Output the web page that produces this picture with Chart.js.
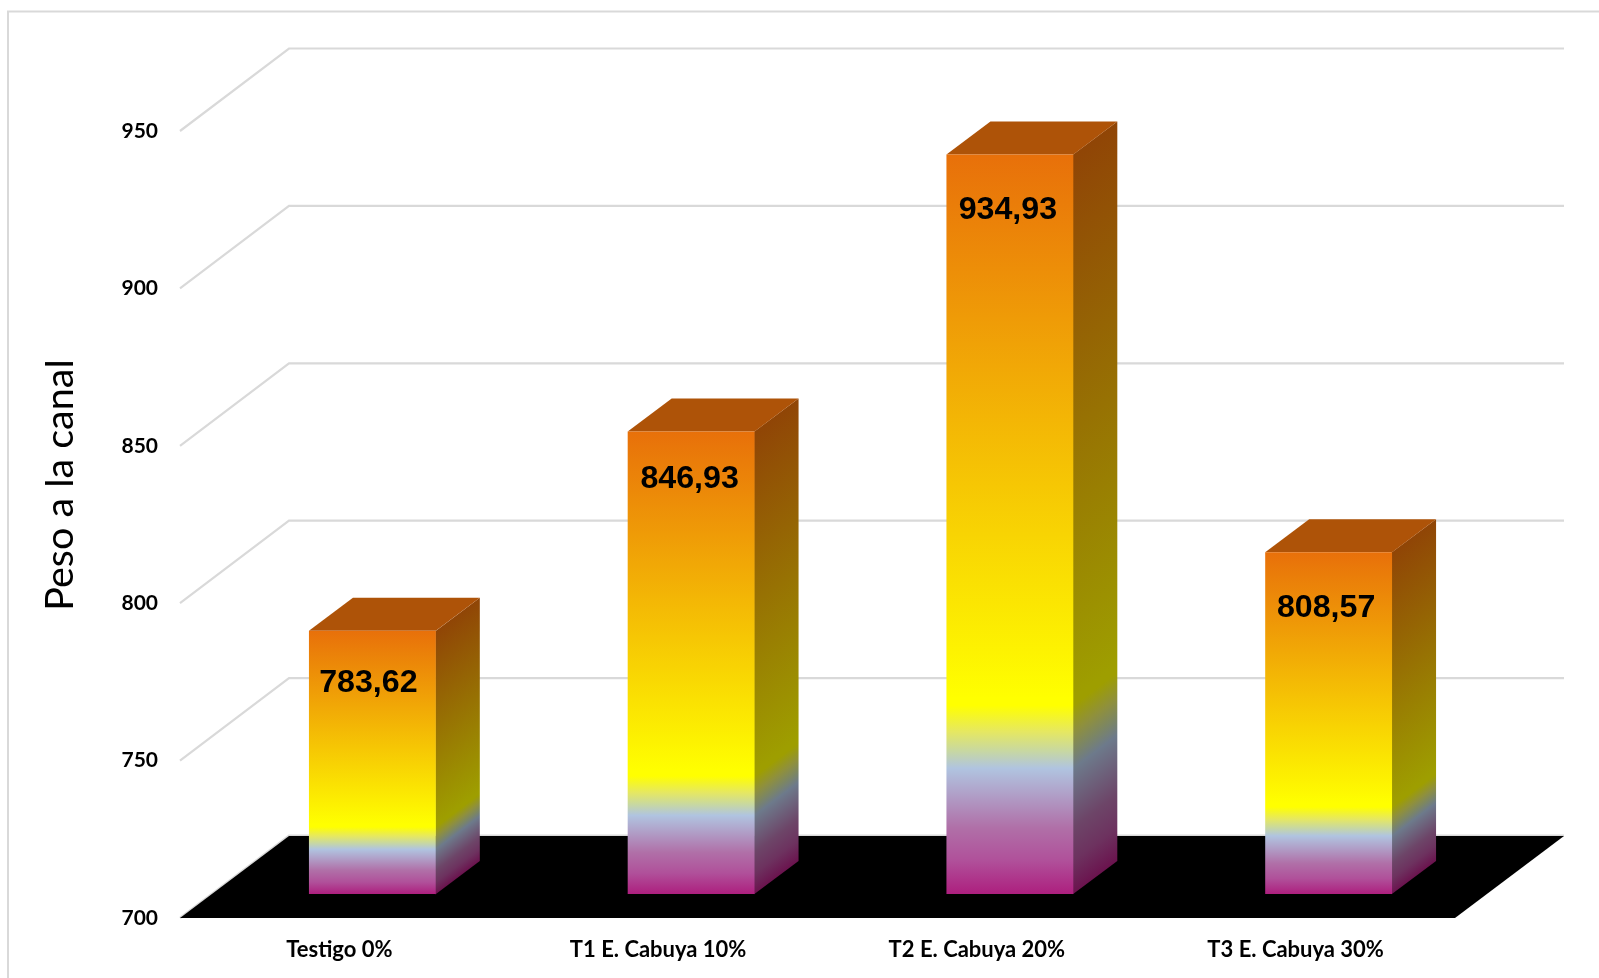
<!DOCTYPE html>
<html lang="es">
<head>
<meta charset="utf-8">
<title>Peso a la canal</title>
<style>
  html, body { margin: 0; padding: 0; background: #ffffff; }
  #wrap { position: relative; width: 1599px; height: 978px; }
</style>
<script src="https://cdn.jsdelivr.net/npm/chart.js@4"></script>
</head>
<body>
<div id="wrap"><canvas id="chart" width="1599" height="978"></canvas></div>
<script>
// Carcass weight per treatment
const categories = ['Testigo 0%', 'T1 E. Cabuya 10%', 'T2 E. Cabuya 20%', 'T3 E. Cabuya 30%'];
const pesoCanal = [783.62, 846.93, 934.93, 808.57];
const axisMin = 700;
const axisMax = 950;
const axisStep = 50;
const axisTitle = 'Peso a la canal';

// Oblique projection of the 3D box
const WALL = { dx: 109, dy: -82.5 };   // floor front edge to back wall
const FLOOR_DY = -82;
const BAR_SHIFT = { dx: 33, dy: -24 }; // floor front edge to bar front face
const BAR_DEPTH = { dx: 44, dy: -33 }; // bar front face to bar back face
const WALL_RIGHT = 1564;

const GRID = '#d9d9d9';
const FACE_STOPS = [
  [0, [232, 112, 10]],
  [0.735, [255, 255, 0]],
  [0.745, [255, 255, 0]],
  [0.78, [230, 232, 96]],
  [0.806, [200, 216, 160]],
  [0.83, [176, 196, 224]],
  [0.865, [176, 160, 200]],
  [0.91, [176, 112, 168]],
  [0.955, [176, 80, 154]],
  [1, [173, 31, 126]]
];
const SIDE_SHADE = 0.62;
const TOP_FILL = '#ae5308';

// Hand placement of the value labels relative to each bar's centre and top
const LABEL_DX = [-4, -1.5, -2, -2.5];
const LABEL_DY = [52, 47.5, 56, 55.5];

function barGradient(ctx, top, bottom, shade) {
  const g = ctx.createLinearGradient(0, top, 0, bottom);
  FACE_STOPS.forEach(([at, c]) => {
    g.addColorStop(at, `rgb(${c.map(v => Math.round(v * shade)).join(',')})`);
  });
  return g;
}

const box3d = {
  id: 'box3d',
  beforeDraw(chart) {
    const { ctx } = chart;
    ctx.save();
    // outer frame, open towards the right and bottom
    ctx.strokeStyle = GRID;
    ctx.lineWidth = 2;
    ctx.beginPath();
    ctx.moveTo(8, 978);
    ctx.lineTo(8, 11.5);
    ctx.lineTo(1599, 11.5);
    ctx.stroke();
    // axis title, centred on the lower part of the value axis
    ctx.translate(73, 485);
    ctx.rotate(-Math.PI / 2);
    ctx.font = '39.5px Lato, sans-serif';
    ctx.fillStyle = '#000000';
    ctx.textAlign = 'center';
    ctx.textBaseline = 'alphabetic';
    ctx.fillText(axisTitle, 0, 0);
    ctx.restore();
  },
  beforeDatasetsDraw(chart) {
    const { ctx, scales: { x, y } } = chart;
    const left = x.left, right = x.right;
    ctx.save();
    // walls: one line per tick, running up the side wall and along the back
    ctx.strokeStyle = GRID;
    ctx.lineWidth = 2.2;
    y.ticks.forEach(t => {
      const py = y.getPixelForValue(t.value);
      ctx.beginPath();
      ctx.moveTo(left, py);
      ctx.lineTo(left + WALL.dx, py + WALL.dy);
      ctx.lineTo(WALL_RIGHT, py + WALL.dy);
      ctx.stroke();
    });
    // floor
    const base = y.getPixelForValue(axisMin);
    ctx.beginPath();
    ctx.moveTo(left, base);
    ctx.lineTo(left + WALL.dx, base + FLOOR_DY);
    ctx.lineTo(right + WALL.dx, base + FLOOR_DY);
    ctx.lineTo(right, base);
    ctx.closePath();
    ctx.fillStyle = '#000000';
    ctx.fill();
    ctx.restore();
  },
  beforeDatasetDraw(chart, args) {
    const { ctx, scales: { y } } = chart;
    const meta = args.meta;
    ctx.save();
    ctx.translate(BAR_SHIFT.dx, BAR_SHIFT.dy);
    const base = y.getPixelForValue(axisMin);
    meta.data.forEach(bar => {
      const half = bar.width / 2;
      const xl = bar.x - half, xr = bar.x + half, top = bar.y;
      // side face, sheared so the colour bands follow the perspective
      ctx.save();
      ctx.transform(1, BAR_DEPTH.dy / BAR_DEPTH.dx, 0, 1, 0, -xr * BAR_DEPTH.dy / BAR_DEPTH.dx);
      ctx.fillStyle = barGradient(ctx, top, base, SIDE_SHADE);
      ctx.fillRect(xr - 0.5, top, BAR_DEPTH.dx + 0.5, base - top);
      ctx.restore();
      // top face
      ctx.beginPath();
      ctx.moveTo(xl, top);
      ctx.lineTo(xl + BAR_DEPTH.dx, top + BAR_DEPTH.dy);
      ctx.lineTo(xr + BAR_DEPTH.dx, top + BAR_DEPTH.dy);
      ctx.lineTo(xr, top);
      ctx.closePath();
      ctx.fillStyle = TOP_FILL;
      ctx.fill();
    });
  },
  afterDatasetDraw(chart, args) {
    const { ctx } = chart;
    ctx.font = 'bold 32.2px "Liberation Sans", Arial, sans-serif';
    ctx.fillStyle = '#000000';
    ctx.textAlign = 'center';
    ctx.textBaseline = 'middle';
    args.meta.data.forEach((bar, i) => {
      const text = pesoCanal[i].toFixed(2).replace('.', ',');
      ctx.fillText(text, bar.x + LABEL_DX[i], bar.y + LABEL_DY[i]);
    });
    ctx.restore();
  }
};

new Chart(document.getElementById('chart'), {
  type: 'bar',
  data: {
    labels: categories,
    datasets: [{
      label: axisTitle,
      data: pesoCanal,
      base: axisMin,
      clip: false,
      categoryPercentage: 1,
      barPercentage: 0.398,
      borderWidth: 0,
      backgroundColor(c) {
        const { chart, dataIndex } = c;
        if (!chart.chartArea || dataIndex === undefined) return '#e8700a';
        const y = chart.scales.y;
        return barGradient(chart.ctx, y.getPixelForValue(pesoCanal[dataIndex]), y.getPixelForValue(axisMin), 1);
      }
    }]
  },
  plugins: [box3d],
  options: {
    responsive: false,
    animation: false,
    layout: { padding: { left: 0, right: 144, top: 131, bottom: 0 } },
    plugins: { legend: { display: false }, tooltip: { enabled: false } },
    scales: {
      x: {
        afterFit(s) { s.height = 60; },
        grid: { display: false },
        border: { display: false },
        ticks: {
          padding: 11,
          maxRotation: 0,
          color: '#000000',
          font: { family: 'Lato', weight: 'bold', size: 22 }
        }
      },
      y: {
        min: axisMin,
        max: axisMax,
        afterFit(s) { s.width = 180; },
        grid: { display: false },
        border: { display: false },
        ticks: {
          stepSize: axisStep,
          padding: 14,
          color: '#000000',
          font: { family: 'Lato', weight: 'bold', size: 21 }
        }
      }
    }
  }
});
</script>
</body>
</html>
